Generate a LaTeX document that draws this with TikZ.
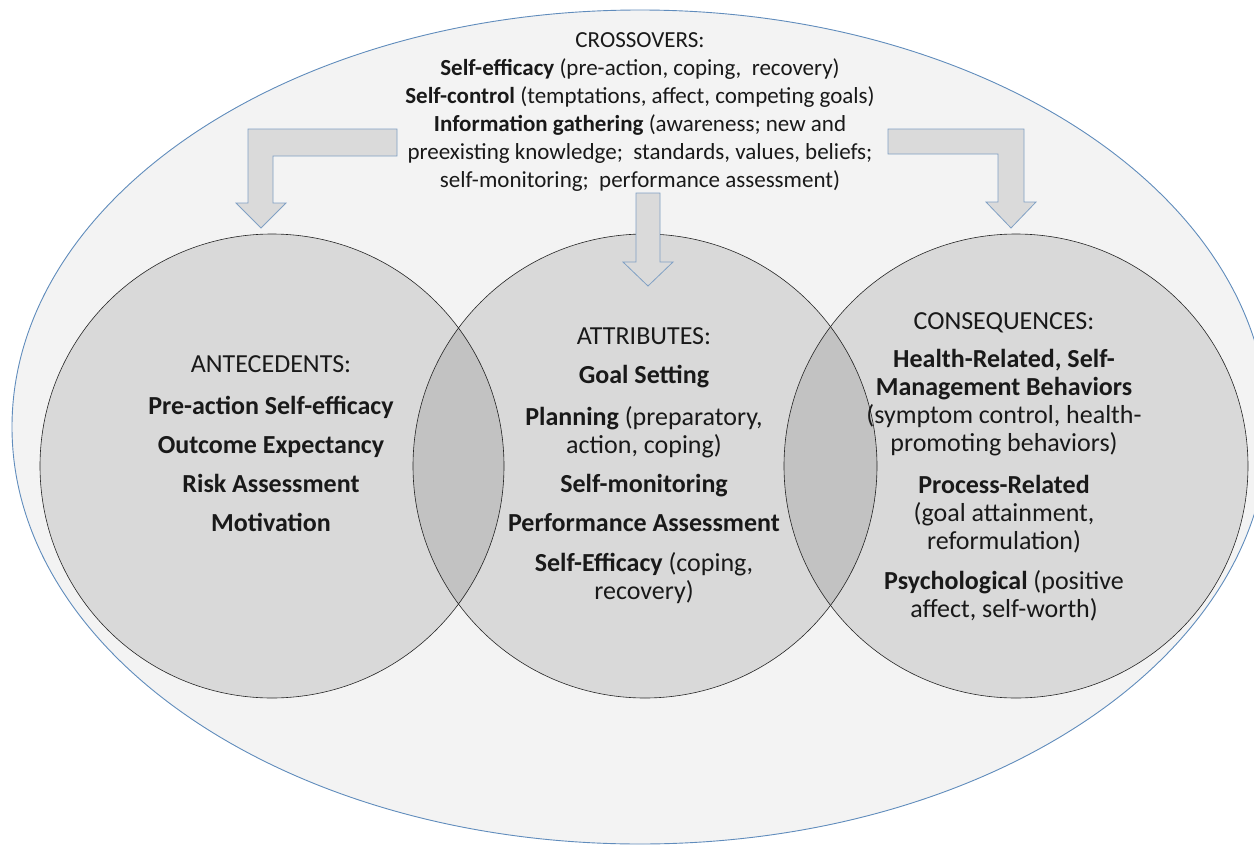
\documentclass[tikz,border=0pt]{standalone}
\usepackage{fontspec}
\setmainfont{Carlito}
\usepackage{tikz}
\usetikzlibrary{positioning}

\definecolor{rimblue}{RGB}{96,140,188}
\definecolor{arrowrim}{RGB}{128,160,196}
\definecolor{arrowfill}{RGB}{218,218,218}
\definecolor{outerfill}{RGB}{243,243,243}

\tikzset{
  vennset/.style={circle, draw=black!85, line width=0.6pt, fill=black, fill opacity=0.105, minimum size=464pt, inner sep=0pt},
  blockarrow/.style={draw=arrowrim, line width=0.8pt, fill=arrowfill},
  txtblock/.style={align=center, inner sep=0pt, text=black!90, font=\fontsize{23}{28}\selectfont},
  circtext/.style={txtblock, font=\fontsize{26}{28}\selectfont}
}

\begin{document}
\begin{tikzpicture}[x=1pt,y=1pt,yscale=-1,xscale=1]
		\useasboundingbox (0,0) rectangle (1254,846);
		\clip (0,0) rectangle (1254,846);
		
		% Outer ellipse
		\draw [draw=rimblue, line width=0.9pt, fill=outerfill] (640,427) circle [x radius=628, y radius=417];
		
		% Circles
		\node [vennset] (ante) at (272,466) {};
		\node [vennset] (attr) at (645,466) {};
		\node [vennset] (cons) at (1016,466) {};
		
		% Bent arrow, left
		\draw [blockarrow] (397,129) -- (248,129) -- (248,203) -- (236,203) -- (261,228) -- (286,203) -- (273,203) -- (273,156) -- (397,156) -- cycle;
		% Straight arrow, middle
		\draw [blockarrow] (636,193) -- (660,193) -- (660,262) -- (673,262) -- (648,286) -- (623,262) -- (636,262) -- cycle;
		% Bent arrow, right
		\draw [blockarrow] (888,129) -- (1024,129) -- (1024,202) -- (1036,202) -- (1011,228) -- (986,202) -- (998,202) -- (998,154) -- (888,154) -- cycle;
		
		% Text Node
		\node [txtblock] (crossovers) at (640,112) {CROSSOVERS:\\
			\textbf{Self-efficacy} (pre-action, coping,\ \ recovery)\\
			\textbf{Self-control} (temptations, affect, competing goals)\\
			\textbf{Information gathering} (awareness; new and\\
			preexisting knowledge;\ \ standards, values, beliefs;\\
			self-monitoring;\ \ performance assessment)};
		% Text Node
		\node [circtext] (antetext) at (271,444) {ANTECEDENTS:\\[14pt]
			\textbf{Pre-action Self-efficacy}\\[11pt]
			\textbf{Outcome Expectancy}\\[11pt]
			\textbf{Risk Assessment}\\[11pt]
			\textbf{Motivation}};
		% Text Node
		\node [circtext] (attrtext) at (644,466) {ATTRIBUTES:\\[11pt]
			\textbf{Goal Setting}\\[14pt]
			\textbf{Planning} (preparatory,\\
			action, coping)\\[11pt]
			\textbf{Self-monitoring}\\[11pt]
			\textbf{Performance Assessment}\\[12pt]
			\textbf{Self-Efficacy} (coping,\\
			recovery)};
		% Text Node
		\node [circtext] (constext) at (1004,467) {CONSEQUENCES:\\[10pt]
			\textbf{Health-Related, Self-}\\
			\textbf{Management Behaviors}\\
			(symptom control, health-\\
			promoting behaviors)\\[14pt]
			\textbf{Process-Related}\\
			(goal attainment,\\
			reformulation)\\[12pt]
			\textbf{Psychological} (positive\\
			affect, self-worth)};
		
\end{tikzpicture}
\end{document}
